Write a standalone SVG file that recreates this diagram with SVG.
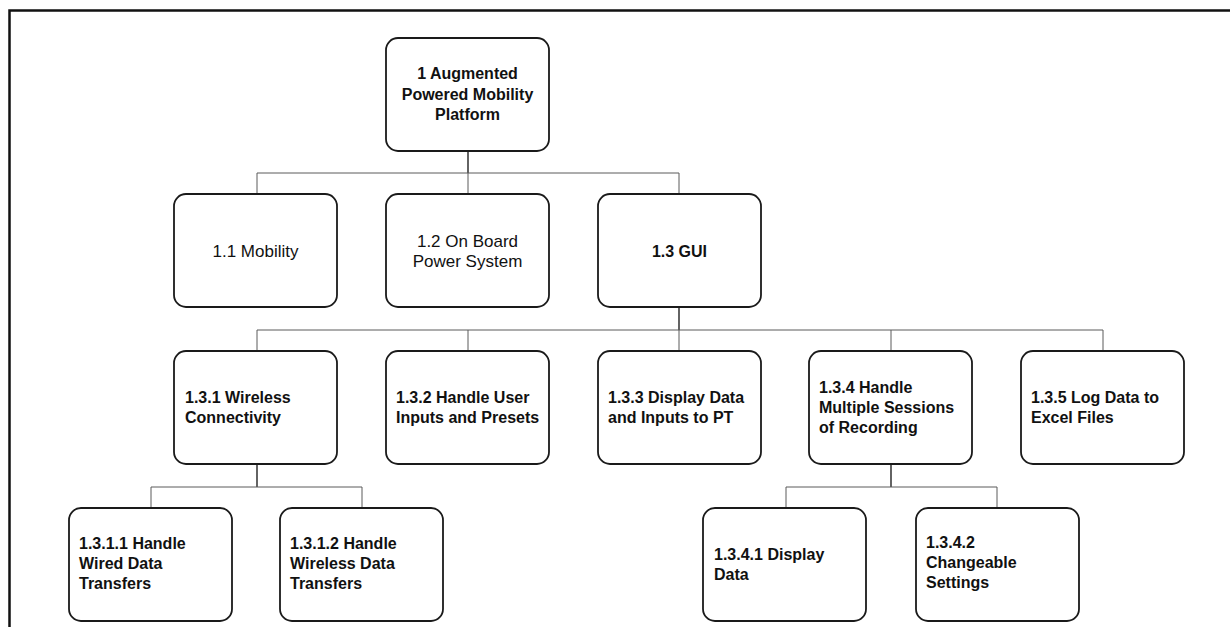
<svg xmlns="http://www.w3.org/2000/svg" width="1230" height="627" viewBox="0 0 1230 627">
<style>
.box{fill:#fff;stroke:#1a1a1a;stroke-width:1.8}
.t{font-family:"Liberation Sans",Arial,sans-serif;font-size:16px;fill:#111}
.r{font-size:17px}
.b{font-weight:bold}
.c{text-anchor:middle}
.ln{stroke:#5a5a5a;stroke-width:1;fill:none}
.dp{stroke:#222;stroke-width:1.4;fill:none}
</style>
<rect width="1230" height="627" fill="#fff"/>
<path d="M9.5 627 V10.5 H1230" fill="none" stroke="#111" stroke-width="2.5"/>
<g id="connectors">
<path class="dp" d="M468 151 V173"/>
<path class="ln" d="M257 194 V173 H679 V194 M468 173 V194"/>
<path class="dp" d="M679 307 V330"/>
<path class="ln" d="M257 351 V330 H1103 V351 M468 330 V351 M679 330 V351 M891 330 V351"/>
<path class="dp" d="M257 464 V487"/>
<path class="ln" d="M151 508 V487 H362 V508"/>
<path class="dp" d="M891 464 V487"/>
<path class="ln" d="M786 508 V487 H997 V508"/>
</g>
<g id="n1"><rect class="box" x="386" y="38" width="163" height="113" rx="12"/>
<text class="t b c" x="467.5" y="79">1 Augmented</text><text class="t b c" x="467.5" y="100">Powered Mobility</text><text class="t b c" x="467.5" y="120">Platform</text></g>
<g id="n1_1"><rect class="box" x="174" y="194" width="163" height="113" rx="12"/>
<text class="t r c" x="255.5" y="257">1.1 Mobility</text></g>
<g id="n1_2"><rect class="box" x="386" y="194" width="163" height="113" rx="12"/>
<text class="t r c" x="467.5" y="247">1.2 On Board</text><text class="t r c" x="467.5" y="267">Power System</text></g>
<g id="n1_3"><rect class="box" x="598" y="194" width="163" height="113" rx="12"/>
<text class="t b c" x="679.5" y="257">1.3 GUI</text></g>
<g id="n1_3_1"><rect class="box" x="174" y="351" width="163" height="113" rx="12"/>
<text class="t b" x="185" y="403">1.3.1 Wireless</text><text class="t b" x="185" y="423">Connectivity</text></g>
<g id="n1_3_2"><rect class="box" x="386" y="351" width="163" height="113" rx="12"/>
<text class="t b" x="396" y="403">1.3.2 Handle User</text><text class="t b" x="396" y="423">Inputs and Presets</text></g>
<g id="n1_3_3"><rect class="box" x="598" y="351" width="163" height="113" rx="12"/>
<text class="t b" x="608" y="403">1.3.3 Display Data</text><text class="t b" x="608" y="423">and Inputs to PT</text></g>
<g id="n1_3_4"><rect class="box" x="809" y="351" width="163" height="113" rx="12"/>
<text class="t b" x="819" y="393">1.3.4 Handle</text><text class="t b" x="819" y="413">Multiple Sessions</text><text class="t b" x="819" y="433">of Recording</text></g>
<g id="n1_3_5"><rect class="box" x="1021" y="351" width="163" height="113" rx="12"/>
<text class="t b" x="1031" y="403">1.3.5 Log Data to</text><text class="t b" x="1031" y="423">Excel Files</text></g>
<g id="n1_3_1_1"><rect class="box" x="69" y="508" width="163" height="113" rx="12"/>
<text class="t b" x="79" y="549">1.3.1.1 Handle</text><text class="t b" x="79" y="569">Wired Data</text><text class="t b" x="79" y="589">Transfers</text></g>
<g id="n1_3_1_2"><rect class="box" x="280" y="508" width="163" height="113" rx="12"/>
<text class="t b" x="290" y="549">1.3.1.2 Handle</text><text class="t b" x="290" y="569">Wireless Data</text><text class="t b" x="290" y="589">Transfers</text></g>
<g id="n1_3_4_1"><rect class="box" x="703" y="508" width="163" height="113" rx="12"/>
<text class="t b" x="714" y="560">1.3.4.1 Display</text><text class="t b" x="714" y="580">Data</text></g>
<g id="n1_3_4_2"><rect class="box" x="916" y="508" width="163" height="113" rx="12"/>
<text class="t b" x="926" y="548">1.3.4.2</text><text class="t b" x="926" y="568">Changeable</text><text class="t b" x="926" y="588">Settings</text></g>
</svg>
